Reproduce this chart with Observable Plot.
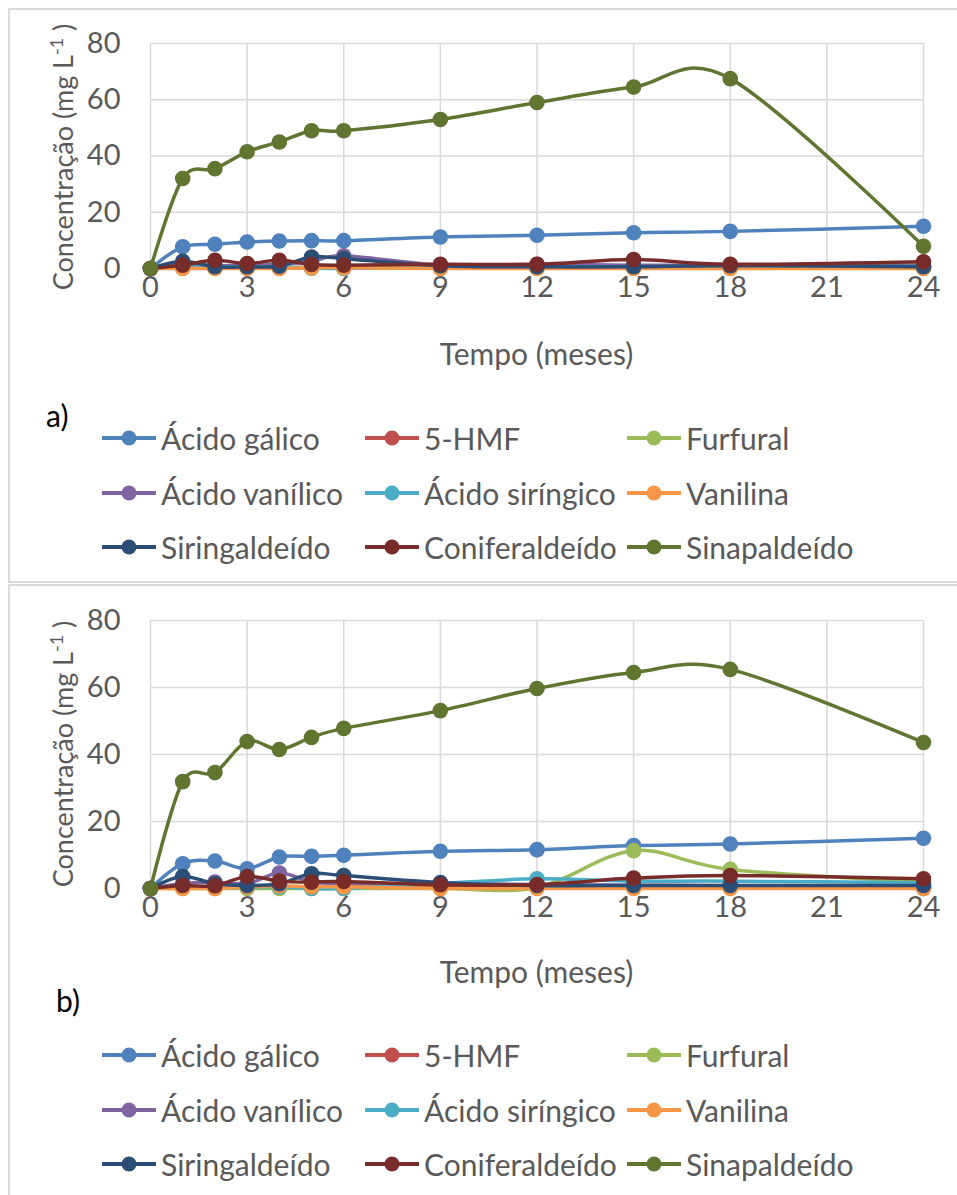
<!DOCTYPE html>
<html><head><meta charset="utf-8">
<script src="https://cdn.jsdelivr.net/npm/d3@7"></script>
<script src="https://cdn.jsdelivr.net/npm/@observablehq/plot@0.6"></script>
<style>
body{margin:0;background:#fff;}
#root{position:relative;width:957px;height:1195px;overflow:hidden;font-family:Lato,sans-serif;}
.panel{position:absolute;border:2px solid #d9d9d9;box-sizing:border-box;background:#fff;}
.plot{position:absolute;left:0;}
.lg{position:absolute;display:flex;align-items:center;height:40px;color:#595959;font-size:30px;white-space:nowrap;line-height:40px;}
.lg svg{margin-right:5px;}
.tag{position:absolute;font-size:30px;color:#000;line-height:40px;}
</style></head><body><div id="root"></div>
<script>
const months = [0, 1, 2, 3, 4, 5, 6, 9, 12, 15, 18, 24];
const xTicks = [0, 3, 6, 9, 12, 15, 18, 21, 24];
const yTicks = [0, 20, 40, 60, 80];
const seriesNames = ["Ácido gálico", "5-HMF", "Furfural", "Ácido vanílico", "Ácido siríngico", "Vanilina", "Siringaldeído", "Coniferaldeído", "Sinapaldeído"];
const seriesColors = ["#4F81BD", "#C0504D", "#9BBB59", "#8064A2", "#4BACC6", "#F79646", "#2C4D75", "#772C2A", "#5F7530"];

// Panel a)
const a_galico     = [0, 7.7, 8.6, 9.4, 9.8, 9.9, 9.9, 11.2, 11.8, 12.7, 13.2, 15.0];
const a_hmf        = [0, 0.4, 0.4, 0.4, 0.4, 0.4, 0.4, 0.4, 0.4, 0.4, 0.4, 0.4];
const a_furfural   = [0, 0.1, 0.1, 0.1, 0.1, 0.1, 0.1, 0.1, 0.1, 0.1, 0.1, 0.1];
const a_vanilico   = [0, 1.5, 1.0, 1.2, 1.5, 2.5, 4.5, 1.2, 1.5, 1.2, 1.2, 1.2];
const a_siringico  = [0, 0.5, 0.5, 0.5, 0.5, 0.2, 0.0, 0.5, 0.5, 0.5, 0.5, 0.8];
const a_vanilina   = [0, 0.0, 0.0, 0.0, 0.0, 0.3, 0.3, 0.0, 0.0, 0.0, 0.0, 0.0];
const a_siringal   = [0, 2.6, 0.6, 0.6, 0.8, 4.1, 3.5, 1.0, 0.6, 0.6, 1.0, 0.6];
const a_conifer    = [0, 1.2, 2.9, 1.8, 2.9, 1.4, 1.2, 1.5, 1.5, 3.2, 1.5, 2.4];
const a_sinap      = [0, 32.0, 35.5, 41.5, 45.0, 49.0, 49.0, 53.0, 59.0, 64.5, 67.5, 7.9];

// Panel b)
const b_galico     = [0, 7.4, 8.2, 5.9, 9.4, 9.6, 9.9, 11.1, 11.6, 12.8, 13.3, 15.0];
const b_hmf        = [0, 0.5, 0.5, 0.5, 0.5, 0.5, 0.5, 0.5, 0.5, 0.5, 0.5, 0.3];
const b_furfural   = [0, 0.0, 0.0, 0.0, 0.0, 0.0, 0.0, 0.0, 0.3, 11.3, 5.7, 2.0];
const b_vanilico   = [0, 1.5, 1.9, 1.5, 4.6, 2.0, 1.5, 1.5, 1.2, 1.0, 0.8, 0.0];
const b_siringico  = [0, 0.5, 0.5, 0.5, 0.5, 0.0, 0.0, 1.5, 2.9, 2.2, 2.2, 1.7];
const b_vanilina   = [0, 0.0, 0.0, 0.5, 0.8, 0.5, 0.5, 0.0, 0.0, 0.0, 0.0, 0.0];
const b_siringal   = [0, 3.6, 1.4, 0.9, 1.4, 4.4, 3.9, 1.8, 0.9, 0.9, 0.9, 0.9];
const b_conifer    = [0, 0.9, 0.8, 3.6, 2.2, 1.9, 2.1, 1.1, 1.2, 3.1, 3.9, 2.9];
const b_sinap      = [0, 31.9, 34.6, 43.9, 41.5, 45.1, 47.8, 53.1, 59.7, 64.5, 65.4, 43.6];

const panelA = [a_galico, a_hmf, a_furfural, a_vanilico, a_siringico, a_vanilina, a_siringal, a_conifer, a_sinap];
const panelB = [b_galico, b_hmf, b_furfural, b_vanilico, b_siringico, b_vanilina, b_siringal, b_conifer, b_sinap];

const FONT = "Lato, sans-serif";
const root = document.getElementById("root");

function makePlot(values, frameH) {
  const marginTop = 43, marginBottom = 110;
  const marks = [
    Plot.gridX(xTicks, {stroke: "#d9d9d9", strokeOpacity: 1, strokeWidth: 1.5}),
    Plot.gridY(yTicks, {stroke: "#d9d9d9", strokeOpacity: 1, strokeWidth: 1.5}),
    Plot.axisX(xTicks, {tickSize: 0, tickPadding: 8, label: null, fontSize: 29}),
    Plot.axisY(yTicks, {tickSize: 0, tickPadding: 30, label: null, fontSize: 29})
  ];
  values.forEach((vals, i) => {
    const data = months.map((m, j) => ({m, v: vals[j]}));
    marks.push(Plot.line(data, {x: "m", y: "v", stroke: seriesColors[i], strokeWidth: 3.5, curve: "cardinal"}));
    marks.push(Plot.dot(data, {x: "m", y: "v", r: 7.8, fill: seriesColors[i]}));
  });
  return Plot.plot({
    width: 957, height: marginTop + frameH + marginBottom,
    marginLeft: 150, marginRight: 34, marginTop, marginBottom,
    x: {domain: [0, 24]}, y: {domain: [0, 80]},
    style: {fontFamily: FONT, fontSize: "29px", color: "#595959", background: "transparent", overflow: "visible"},
    marks
  });
}

function addTitles(svg, labelBaseline, yCenter) {
  const s = d3.select(svg);
  s.append("text").attr("x", 536.5).attr("y", labelBaseline)
    .attr("text-anchor", "middle").attr("fill", "#595959")
    .style("font-family", FONT).style("font-size", "30px").text("Tempo (meses)");
  const t = s.append("text").attr("transform", `translate(73,${yCenter}) rotate(-90)`)
    .attr("text-anchor", "middle").attr("fill", "#595959")
    .style("font-family", FONT).style("font-size", "27px");
  t.append("tspan").text("Concentração (mg L");
  t.append("tspan").attr("dy", -10).style("font-size", "18px").text("-1");
  t.append("tspan").attr("dy", 10).text(" )");
}

function addLegend(rowCenters, tagText, tagX, tagY) {
  const cols = [102, 365, 627];
  seriesNames.forEach((name, i) => {
    const c = i % 3, r = Math.floor(i / 3);
    const d = document.createElement("div");
    d.className = "lg";
    d.style.left = cols[c] + "px";
    d.style.top = (rowCenters[r] - 20) + "px";
    d.innerHTML = `<svg width="54" height="18"><line x1="0" x2="54" y1="9" y2="9" stroke="${seriesColors[i]}" stroke-width="4"/><circle cx="27" cy="9" r="7.5" fill="${seriesColors[i]}"/></svg><span>${name}</span>`;
    root.appendChild(d);
  });
  const t = document.createElement("div");
  t.className = "tag";
  t.style.left = tagX + "px";
  t.style.top = (tagY - 20) + "px";
  t.textContent = tagText;
  root.appendChild(t);
}

// panel borders
const pa = document.createElement("div");
pa.className = "panel"; pa.style.left = "8px"; pa.style.top = "8px"; pa.style.width = "960px"; pa.style.height = "575px";
root.appendChild(pa);
const pb = document.createElement("div");
pb.className = "panel"; pb.style.left = "8px"; pb.style.top = "584px"; pb.style.width = "960px"; pb.style.height = "620px";
root.appendChild(pb);

// Plot a
const svgA = makePlot(panelA, 225);
svgA.classList.add("plot");
svgA.style.top = "0px";
root.appendChild(svgA);
addTitles(svgA, 365, 157);
addLegend([438, 493, 547], "a)", 46, 415);

// Plot b
const svgB = makePlot(panelB, 268);
svgB.classList.add("plot");
svgB.style.top = "577px";
root.appendChild(svgB);
addTitles(svgB, 406, 177);
addLegend([1055, 1110, 1164], "b)", 56, 1000);
</script>
</body></html>
